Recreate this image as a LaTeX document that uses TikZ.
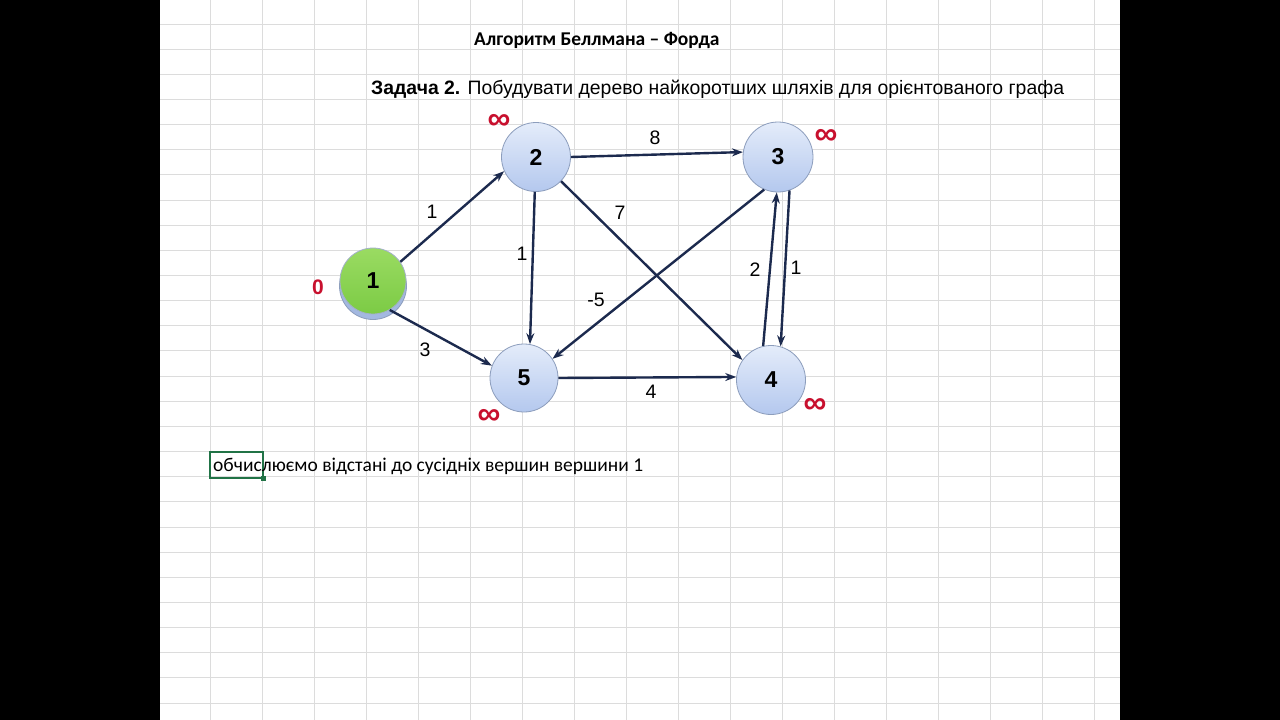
\documentclass[tikz,border=0pt]{standalone}
\usepackage{fontspec}
\setmainfont{Liberation Sans}
\newfontfamily\calfont{Carlito}
\usetikzlibrary{arrows.meta}
\definecolor{gridc}{HTML}{DCDCDC}
\definecolor{edgec}{HTML}{1C2A4E}
\definecolor{infc}{HTML}{C8102E}
\definecolor{nodetop}{HTML}{E4ECFA}
\definecolor{nodebot}{HTML}{B4C8EE}
\definecolor{nodeborder}{HTML}{8C9DBC}
\definecolor{greentop}{HTML}{9ADB62}
\definecolor{greenbot}{HTML}{7CCB45}
\definecolor{shadowc}{HTML}{A3B8E0}
\definecolor{cellc}{HTML}{217346}
\tikzset{
  vert/.style={circle, minimum size=#1, inner sep=0pt, draw=nodeborder, line width=0.8pt,
    top color=nodetop, bottom color=nodebot, font=\fontsize{23}{23}\selectfont\bfseries},
  vert/.default=69pt,
  edge/.style={draw=edgec, line width=2.4pt, -{Stealth[length=11pt,width=8pt]}},
  wlabel/.style={font=\fontsize{19.5}{19.5}\selectfont, inner sep=0pt},
  inflabel/.style={text=infc, font=\fontsize{32}{32}\selectfont\bfseries, inner sep=0pt},
}
\begin{document}
\begin{tikzpicture}[x=1pt,y=-1pt]
\useasboundingbox (0,0) rectangle (1280,720);
\fill[black] (0,0) rectangle (1280,720);
\fill[white] (160,0) rectangle (1120,720);
% grid
\foreach \k in {0,...,17} {
  \draw[gridc, line width=1pt] ({210.7+52*\k},0) -- ({210.7+52*\k},720);
}
\foreach \k in {-1,...,28} {
  \draw[gridc, line width=1pt] (160,{24+25.15*\k}) -- (1120,{24+25.15*\k});
}
% titles
\node[anchor=base west, inner sep=0pt, font=\calfont\fontsize{19.5}{19.5}\selectfont\bfseries] (title) at (474,45) {Алгоритм Беллмана – Форда};
\node[anchor=base west, inner sep=0pt, font=\fontsize{19.4}{19.4}\selectfont] (task) at (371,94) {\textbf{Задача 2.} Побудувати дерево найкоротших шляхів для орієнтованого графа};
% vertices
\node[circle, minimum size=67pt, inner sep=0pt, fill=shadowc, draw=nodeborder, line width=0.8pt] (n1shadow) at (373,286) {};
\node[circle, minimum size=66pt, inner sep=0pt, draw=nodeborder!80, line width=0.8pt, top color=greentop, bottom color=greenbot, font=\fontsize{23}{23}\selectfont\bfseries] (n1) at (373,281) {1};
\node[vert] (n2) at (536,157) {2};
\node[vert=70pt] (n3) at (778,157) {3};
\node[vert] (n4) at (771,380) {4};
\node[vert=68pt] (n5) at (524,378) {5};
% edges
\draw[edge] (n1.35) -- (n2.204);
\draw[edge] (n1.300) -- (n5.159);
\draw[edge] (n2.0) -- (n3.172);
\draw[edge] (n2.268) -- (n5.80);
\draw[edge] (n2.316) -- (n4.145);
\draw[edge] (n3.247) -- (n5.34);
\draw[edge] (n4.103) -- (n3.268);
\draw[edge] (n3.289) -- (n4.74);
\draw[edge] (n5.0) -- (n4.175);
% weights
\node[wlabel] (w12) at (432,212) {1};
\node[wlabel] (w15) at (425,350) {3};
\node[wlabel] (w23) at (655,138) {8};
\node[wlabel] (w25) at (522,254) {1};
\node[wlabel] (w24) at (620,213) {7};
\node[wlabel] (w35) at (596,300) {-5};
\node[wlabel] (w43) at (755,270) {2};
\node[wlabel] (w34) at (796,268) {1};
\node[wlabel] (w54) at (651,392) {4};
% distances
\node[text=infc, font=\fontsize{21}{21}\selectfont\bfseries, inner sep=0pt] (d1) at (318,287) {0};
\node[inflabel] (d2) at (499,122) {∞};
\node[inflabel] (d3) at (826,137) {∞};
\node[inflabel] (d4) at (815,406) {∞};
\node[inflabel] (d5) at (489,417) {∞};
% cell and caption
\draw[cellc, line width=1.2pt] (210,452) rectangle (263,478);
\fill[cellc] (260.5,475.5) rectangle (265.5,480.5);
\node[anchor=base west, inner sep=0pt, font=\calfont\fontsize{19.5}{19.5}\selectfont] (caption) at (213,471) {обчислюємо відстані до сусідніх вершин вершини 1};
\end{tikzpicture}
\end{document}
